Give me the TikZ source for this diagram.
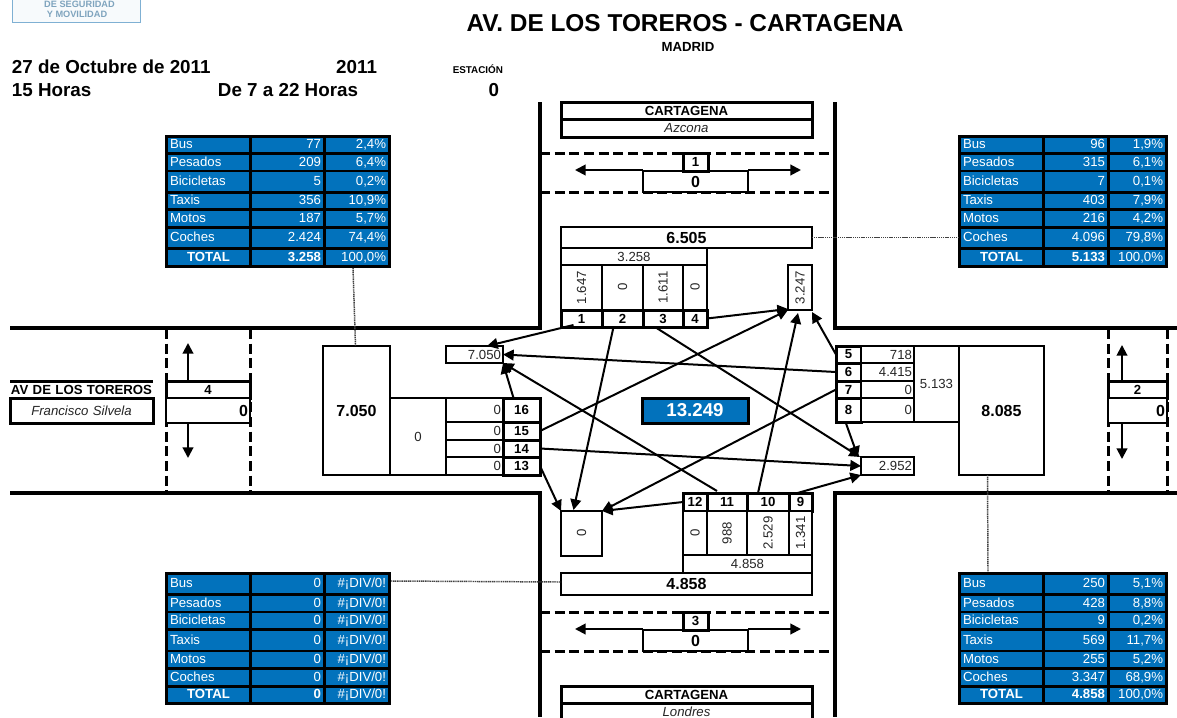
\documentclass[tikz,border=0pt]{standalone}
\usepackage{fontspec}
\usepackage{graphicx}
\setmainfont{Liberation Sans}
\usetikzlibrary{calc,arrows.meta}
\definecolor{tblue}{HTML}{0272BC}
\definecolor{ink}{HTML}{262626}
\definecolor{logoc}{HTML}{7FB0D3}
\tikzset{
  x=0.75pt,y=-0.75pt,
  cell/.style={draw=black,fill=white,line width=1.5pt,inner xsep=1.5pt,inner ysep=0pt,outer sep=0pt,align=center,font=\fontsize{9.9}{10}\selectfont,text=ink},
  rt/.style={align=right},
  lf/.style={align=left},
  hv/.style={line width=2.25pt},
  bf/.style={font=\fontsize{9.9}{10}\selectfont\bfseries,text=black},
  bfl/.style={font=\fontsize{12}{13}\selectfont\bfseries,text=black},
  it/.style={font=\fontsize{9.9}{10}\selectfont\itshape},
  tc/.style={draw=none,fill=tblue,text=white,inner xsep=1pt,text height=7.2pt,text depth=1.6pt},
  road/.style={line width=3pt,line cap=butt},
  lane/.style={line width=2.25pt,dash pattern=on 7.5pt off 3.5pt},
  turn/.style={line width=1.5pt,-{Triangle[length=8pt,width=8pt]}},
  lead/.style={line width=1.5pt,-{Triangle[length=8pt,width=8pt]}},
  tie/.style={line width=1.1pt,black!75,dash pattern=on 0.9pt off 0.5pt},
  head/.style={inner sep=0pt,outer sep=0pt,text=black}
}
\newcommand\nb[7][]{%
  \pgfmathsetmacro\bw{(#5-#3)*0.75}%
  \pgfmathsetmacro\bh{(#6-#4)*0.75}%
  \pgfmathsetmacro\tw{\bw-3}%
  \pgfmathsetmacro\bcx{(#3+#5)/2}%
  \pgfmathsetmacro\bcy{(#4+#6)/2}%
  \node[cell,minimum width=\bw pt,minimum height=\bh pt,text width=\tw pt,#1] (#2) at (\bcx,\bcy) {#7};%
}
\newcommand\rot[1]{\rotatebox[origin=c]{90}{#1}}
% table row: name, y1, y2, label, value, pct
\newcommand\trow[7][]{%
  \nb[tc,lf,#1]{#2a}{\xa}{#3}{\xb}{#4}{#5}%
  \nb[tc,rt,#1]{#2b}{\xc}{#3}{\xd}{#4}{#6}%
  \nb[tc,rt]{#2c}{\xe}{#3}{\xf}{#4}{#7}%
}
\newcommand\ttot[4]{%
  \nb[tc,bf,text=white]{#1a}{\xa}{#2}{\xb}{#3}{TOTAL}%
  \nb[tc,rt,bf,text=white]{#1b}{\xc}{#2}{\xd}{#3}{#4}%
}
\begin{document}
\begin{tikzpicture}
\useasboundingbox (0,0) rectangle (1177,717);
\fill[white] (0,0) rectangle (1177,717);

% logo
\draw[logoc,line width=0.9pt,fill=logoc!6] (12.5,-3) rectangle (140.5,22.5);
\node[head,text=logoc!75!gray,font=\fontsize{6.9}{7}\selectfont\bfseries] (logoa) at (79.5,4) {DE SEGURIDAD};
\node[head,text=logoc!75!gray,font=\fontsize{6.9}{7}\selectfont\bfseries] (logob) at (77,14) {Y MOVILIDAD};

% headers
\node[head,font=\fontsize{18.3}{19}\selectfont\bfseries] (title) at (685,23) {AV. DE LOS TOREROS - CARTAGENA};
\node[head,font=\fontsize{9.9}{10}\selectfont\bfseries] (madrid) at (688,47) {MADRID};
\node[head,anchor=west,font=\fontsize{14.1}{15}\selectfont\bfseries] (fecha) at (12,67) {27 de Octubre de 2011};
\node[head,anchor=east,font=\fontsize{14.1}{15}\selectfont\bfseries] (anio) at (377,67) {2011};
\node[head,anchor=east,font=\fontsize{7.4}{8}\selectfont\bfseries] (est) at (503,69) {ESTACIÓN};
\node[head,anchor=west,font=\fontsize{14.1}{15}\selectfont\bfseries] (horas) at (12,90) {15 Horas};
\node[head,anchor=east,font=\fontsize{14.1}{15}\selectfont\bfseries] (rango) at (358,90) {De 7 a 22 Horas};
\node[head,anchor=east,font=\fontsize{14.1}{15}\selectfont\bfseries] (estn) at (499,90) {0};

% roads
\draw[road] (539.5,102) -- (539.5,327.5) -- (10,327.5);
\draw[road] (834.5,102) -- (834.5,327.5) -- (1177,327.5);
\draw[road] (10,493) -- (539.5,493) -- (539.5,717);
\draw[road] (1177,493) -- (834.5,493) -- (834.5,717);
\draw[lane] (540,153.5) -- (834,153.5);
\draw[lane] (540,192.5) -- (834,192.5);
\draw[lane] (540,612.5) -- (834,612.5);
\draw[lane] (540,651.5) -- (834,651.5);
\draw[lane] (166.5,329) -- (166.5,492);
\draw[lane] (250.5,329) -- (250.5,492);
\draw[lane] (1108.5,329) -- (1108.5,492);
\draw[lane] (1167,329) -- (1167,492);

% top arm
\nb[bf,hv]{topa}{561}{102}{812}{119}{CARTAGENA}
\nb[it,hv]{topb}{561}{119}{812}{137}{Azcona}
\coordinate (topl) at (575,170);
\coordinate (topr) at (801,170);
\nb[bfl,line width=1.1pt]{topz}{643}{171}{748}{192}{0}
\nb[bf,hv]{topn}{683}{153}{708}{171}{1}
\draw[lead] (topz.north west) ++(0,-1) -- (topl);
\draw[lead] (topz.north east) ++(0,-1) -- (topr);

% bottom arm
\nb[bf,hv]{bota}{561}{686}{812}{703}{CARTAGENA}
\nb[it,hv]{botb}{561}{703}{812}{720}{Londres}
\coordinate (botl) at (575,629);
\coordinate (botr) at (801,629);
\nb[bfl,line width=1.1pt]{botz}{643}{630}{748}{651}{0}
\nb[bf,hv]{botn}{683}{612}{708}{630}{3}
\draw[lead] (botz.north west) ++(0,-1) -- (botl);
\draw[lead] (botz.north east) ++(0,-1) -- (botr);

% left arm
\nb[bf,draw=none,fill=none,inner xsep=0pt,text width=107.25pt]{wa}{10}{381}{153}{398}{AV DE LOS TOREROS}
\draw[hv] (wa.north west) -- (wa.north east);
\nb[it,hv]{wb}{10}{398}{153}{423}{Francisco Silvela}
\nb[bf,hv]{wn}{166}{381}{250}{398}{4}
\nb[bfl,rt,line width=1.1pt]{wz}{166}{398}{250}{423}{0}
\coordinate (wu) at (188,343);
\coordinate (wd) at (188,458);
\draw[lead] ($(wn.north west)+(22,0)$) -- (wu);
\draw[lead] ($(wz.south west)+(22,0)$) -- (wd);

% right arm
\nb[bf,hv]{en}{1108}{381}{1167}{398}{2}
\nb[bfl,rt,line width=1.1pt]{ez}{1108}{398}{1167}{423}{0}
\coordinate (eu) at (1122,345);
\coordinate (ed) at (1122,459);
\draw[lead] ($(en.north west)+(14,0)$) -- (eu);
\draw[lead] ($(ez.south west)+(14,0)$) -- (ed);

% north approach
\nb[bfl]{ntot}{561}{227}{812}{248}{6.505}
\nb{nin}{561}{248}{707}{265}{3.258}
\nb{nv1}{561}{265}{602}{310}{\rot{1.647}}
\nb{nv2}{602}{265}{643}{310}{\rot{0}}
\nb{nv3}{643}{265}{683}{310}{\rot{1.611}}
\nb{nv4}{683}{265}{707}{310}{\rot{0}}
\nb[bf,hv]{n1}{561}{310}{602}{327}{1}
\nb[bf,hv]{n2}{602}{310}{643}{327}{2}
\nb[bf,hv]{n3}{643}{310}{683}{327}{3}
\nb[bf,hv]{n4}{683}{310}{707}{327}{4}
\nb{oN}{788}{265}{812}{310}{\rot{3.247}}

% west approach
\nb[bfl]{wtot}{323}{346}{390}{475}{7.050}
\nb{win}{390}{398}{446}{475}{0}
\nb[rt]{wv16}{446}{398}{503}{422}{0}
\nb[rt]{wv15}{446}{422}{503}{440}{0}
\nb[rt]{wv14}{446}{440}{503}{457}{0}
\nb[rt]{wv13}{446}{457}{503}{475}{0}
\nb[bf,hv]{n16}{503}{398}{540}{422}{16}
\nb[bf,hv]{n15}{503}{422}{540}{440}{15}
\nb[bf,hv]{n14}{503}{440}{540}{457}{14}
\nb[bf,hv]{n13}{503}{457}{540}{475}{13}
\nb[rt]{oW}{446}{346}{503}{363}{7.050}

% east approach
\nb[bf,hv]{n5}{836}{346}{861}{363}{5}
\nb[bf,hv]{n6}{836}{363}{861}{381}{6}
\nb[bf,hv]{n7}{836}{381}{861}{398}{7}
\nb[bf,hv]{n8}{836}{398}{861}{422}{8}
\nb[rt]{ev5}{861}{346}{914}{363}{718}
\nb[rt]{ev6}{861}{363}{914}{381}{4.415}
\nb[rt]{ev7}{861}{381}{914}{398}{0}
\nb[rt]{ev8}{861}{398}{914}{422}{0}
\nb{ein}{914}{346}{959}{422}{5.133}
\nb[bfl]{etot}{959}{346}{1044}{475}{8.085}
\nb[rt]{oE}{861}{457}{914}{475}{2.952}

% south approach
\nb[bf,hv]{n12}{683}{493}{707}{511}{12}
\nb[bf,hv]{n11}{707}{493}{747}{511}{11}
\nb[bf,hv]{n10}{747}{493}{789}{511}{10}
\nb[bf,hv]{n9}{789}{493}{812}{511}{9}
\nb{sv12}{683}{511}{707}{555}{\rot{0}}
\nb{sv11}{707}{511}{747}{555}{\rot{988}}
\nb{sv10}{747}{511}{789}{555}{\rot{2.529}}
\nb{sv9}{789}{511}{812}{555}{\rot{1.341}}
\nb{sin}{683}{555}{812}{573}{4.858}
\nb[bfl]{stot}{561}{573}{812}{595}{4.858}
\nb{oS}{561}{511}{602}{556}{\rot{0}}

% total
\nb[bfl,hv,fill=tblue,text=white,font=\fontsize{14}{15}\selectfont\bfseries]{grand}{642}{398}{748}{423}{13.249}

% tables
\fill[black] (165,135) rectangle (391,268);
\fill[black] (958,135) rectangle (1168,268);
\fill[black] (165,572) rectangle (391,705);
\fill[black] (958,572) rectangle (1168,705);
\def\xa{168}\def\xb{249}\def\xc{252}\def\xd{323}\def\xe{326}\def\xf{388}
\trow{tla}{138}{152}{Bus}{77}{2,4\%}
\trow{tlb}{155}{170}{Pesados}{209}{6,4\%}
\trow{tlc}{172}{191}{Bicicletas}{5}{0,2\%}
\trow{tld}{194}{208}{Taxis}{356}{10,9\%}
\trow{tle}{211}{226}{Motos}{187}{5,7\%}
\trow{tlf}{229}{247}{Coches}{2.424}{74,4\%}
\ttot{tlg}{250}{265}{3.258}
\nb[tc,rt]{tlgc}{\xe}{250}{\xf}{265}{100,0\%}
\trow{bla}{575}{593}{Bus}{0}{\#¡DIV/0!}
\trow{blb}{596}{611}{Pesados}{0}{\#¡DIV/0!}
\trow{blc}{613}{628}{Bicicletas}{0}{\#¡DIV/0!}
\trow{bld}{631}{650}{Taxis}{0}{\#¡DIV/0!}
\trow{ble}{652}{667}{Motos}{0}{\#¡DIV/0!}
\trow{blf}{670}{685}{Coches}{0}{\#¡DIV/0!}
\ttot{blg}{688}{702}{0}
\nb[tc,rt]{blgc}{\xe}{688}{\xf}{702}{\#¡DIV/0!}
\def\xa{961}\def\xb{1042}\def\xc{1045}\def\xd{1107}\def\xe{1110}\def\xf{1165}
\trow{tra}{138}{152}{Bus}{96}{1,9\%}
\trow{trb}{155}{170}{Pesados}{315}{6,1\%}
\trow{trc}{172}{191}{Bicicletas}{7}{0,1\%}
\trow{trd}{194}{208}{Taxis}{403}{7,9\%}
\trow{tre}{211}{226}{Motos}{216}{4,2\%}
\trow{trf}{229}{247}{Coches}{4.096}{79,8\%}
\ttot{trg}{250}{265}{5.133}
\nb[tc,rt]{trgc}{\xe}{250}{\xf}{265}{100,0\%}
\trow{bra}{575}{593}{Bus}{250}{5,1\%}
\trow{brb}{596}{611}{Pesados}{428}{8,8\%}
\trow{brc}{613}{628}{Bicicletas}{9}{0,2\%}
\trow{brd}{631}{650}{Taxis}{569}{11,7\%}
\trow{bre}{652}{667}{Motos}{255}{5,2\%}
\trow{brf}{670}{685}{Coches}{3.347}{68,9\%}
\ttot{brg}{688}{702}{4.858}
\nb[tc,rt]{brgc}{\xe}{688}{\xf}{702}{100,0\%}

% leader ties
\draw[tie] ($(tlgc.south west)+(27,3)$) -- ($(wtot.north)+(-1,0)$);
\draw[tie] (ntot.east) -- ($(ntot.east)+(146,0)$);
\draw[tie] (blac.east |- stot.west) ++(3,-3) -- ($(stot.west)+(0,-2)$);
\draw[tie] ($(etot.south)+(-14,0)$) -- ($(brab.north west)+(-57,-3)$);

% movements
\draw[turn] ($(n1.south)+(-8,-2)$) -- ($(oW.north east)+(-16,0)$);
\draw[turn] ($(n2.south)+(-9,0)$) -- ($(oS.north)+(-8,-1)$);
\draw[turn] ($(n3.south)+(-8,0)$) -- ($(oE.north west)+(-1,0)$);
\draw[turn] (n4.east) -- ($(oN.south west)+(0,-1)$);
\draw[turn] (n5.west) -- ($(oN.south east)+(0,2)$);
\draw[turn] (n6.west) -- (oW.east);
\draw[turn] (n7.west) -- (oS.north east);
\draw[turn] ($(n8.south)+(-3,0)$) -- ($(oE.north west)+(-3,0)$);
\draw[turn] ($(n9.north)+(-3,0)$) -- (oE.south west);
\draw[turn] ($(n10.north)+(-10,0)$) -- ($(oN.south)+(-2,3)$);
\draw[turn] ($(n11.north)+(-10,-2)$) -- (oW.south east);
\draw[turn] (n12.west) -- (oS.north east);
\draw[turn] (n13.east) -- (oS.north west);
\draw[turn] (n14.east) -- (oE.west);
\draw[turn] (n15.east) -- (oN.south west);
\draw[turn] ($(n16.north)+(-8,0)$) -- (oW.south east);
\end{tikzpicture}
\end{document}
